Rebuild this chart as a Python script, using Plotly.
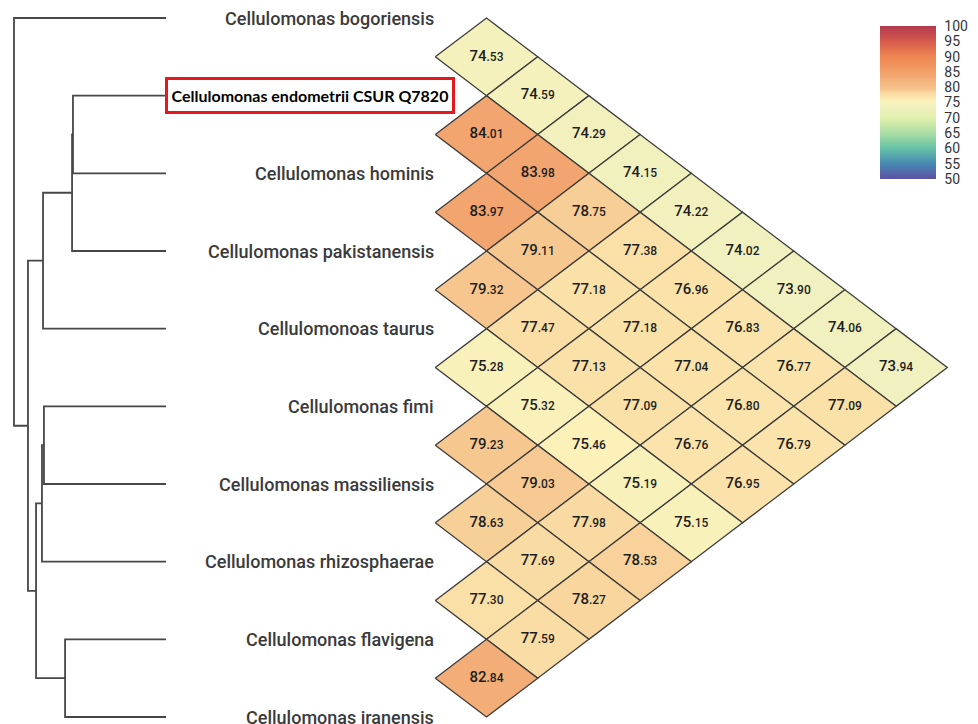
import numpy as np
import plotly.graph_objects as go

# ---------------- data ----------------
species = [
    "Cellulomonas bogoriensis",
    "Cellulomonas endometrii CSUR Q7820",
    "Cellulomonas hominis",
    "Cellulomonas pakistanensis",
    "Cellulomonoas taurus",
    "Cellulomonas fimi",
    "Cellulomonas massiliensis",
    "Cellulomonas rhizosphaerae",
    "Cellulomonas flavigena",
    "Cellulomonas iranensis",
]
highlight_index = 1

# upper triangle rows: row i holds values for pairs (i, i+1), (i, i+2), ...
row_0 = [74.53, 74.59, 74.29, 74.15, 74.22, 74.02, 73.90, 74.06, 73.94]
row_1 = [84.01, 83.98, 78.75, 77.38, 76.96, 76.83, 76.77, 77.09]
row_2 = [83.97, 79.11, 77.18, 77.18, 77.04, 76.80, 76.79]
row_3 = [79.32, 77.47, 77.13, 77.09, 76.76, 76.95]
row_4 = [75.28, 75.32, 75.46, 75.19, 75.15]
row_5 = [79.23, 79.03, 77.98, 78.53]
row_6 = [78.63, 77.69, 78.27]
row_7 = [77.30, 77.59]
row_8 = [82.84]
rows = [row_0, row_1, row_2, row_3, row_4, row_5, row_6, row_7, row_8]

# dendrogram merges (scipy-like: new cluster ids start at 10), height in relative distance units
merges = [
    (1, 2, 0.612),
    (10, 3, 0.618),
    (11, 4, 0.809),
    (5, 6, 0.803),
    (13, 7, 0.816),
    (8, 9, 0.664),
    (14, 15, 0.855),
    (12, 16, 0.908),
    (0, 17, 1.000),
]

colorbar_ticks = [50, 55, 60, 65, 70, 75, 80, 85, 90, 95, 100]
cmin, cmax = 50, 100

# ---------------- style ----------------
W, H = 978, 724
LEAF_PX0, LEAF_DY = 18.0, 699.0 / 9
LEAF_X = 166.0
DENDRO_SCALE = 152.0
CELL_X1 = 486.5
CELL_DX = 51.2
LABEL_RIGHT = 436.0

scale_vals = [50, 55, 60, 65, 70, 74, 75.5, 77, 78, 79.2, 84, 90, 95, 100]
scale_cols = ["#5E4FA2", "#4789B4", "#66C2A5", "#ABDDA4", "#E2F0AE", "#F0F1BF",
              "#FBF1B9", "#FAE2A9", "#F9DAA2", "#F6C78F", "#F2A56E", "#EE8550",
              "#D65A4C", "#B23A4F"]
colorscale = [[(v - cmin) / (cmax - cmin), c] for v, c in zip(scale_vals, scale_cols)]


def hex2rgb(h):
    h = h.lstrip("#")
    return np.array([int(h[k:k + 2], 16) for k in (0, 2, 4)], dtype=float)


def value_color(v):
    rgbs = np.array([hex2rgb(c) for c in scale_cols])
    r = [np.interp(v, scale_vals, rgbs[:, k]) for k in range(3)]
    return "rgb(%d,%d,%d)" % tuple(int(round(x)) for x in r)


# y axis in leaf-index units
y_top = -LEAF_PX0 / LEAF_DY
y_bot = (H - LEAF_PX0) / LEAF_DY

fig = go.Figure()

# ---------------- dendrogram ----------------
n = len(species)
pos = {i: (LEAF_X, float(i)) for i in range(n)}
dx_list, dy_list = [], []
for k, (a, b, h) in enumerate(merges):
    xn = LEAF_X - h * DENDRO_SCALE
    xa, ya = pos[a]
    xb, yb = pos[b]
    dx_list += [xa, xn, xn, xb, None]
    dy_list += [ya, ya, yb, yb, None]
    pos[n + k] = (xn, (ya + yb) / 2)

fig.add_trace(go.Scatter(x=dx_list, y=dy_list, mode="lines",
                         line=dict(color="#474747", width=1.8),
                         hoverinfo="skip", showlegend=False))

# ---------------- diamonds ----------------
tx, ty, tt = [], [], []
for i, row in enumerate(rows):
    for off, v in enumerate(row):
        j = i + off + 1
        d = j - i
        cx = CELL_X1 + (d - 1) * CELL_DX
        cy = (i + j) / 2
        xs = [cx - CELL_DX, cx, cx + CELL_DX, cx, cx - CELL_DX]
        ys = [cy, cy - 0.5, cy, cy + 0.5, cy]
        fig.add_trace(go.Scatter(x=xs, y=ys, mode="lines", fill="toself",
                                 fillcolor=value_color(v),
                                 line=dict(color="#3c3c3c", width=1.3),
                                 hoverinfo="skip", showlegend=False))
        s = "%.2f" % v
        ip, dp = s.split(".")
        tx.append(cx)
        ty.append(cy)
        tt.append(ip + "<span style='font-size:12px'>." + dp + "</span>")

fig.add_trace(go.Scatter(x=tx, y=ty, mode="text", text=tt,
                         textposition="middle center",
                         textfont=dict(family="Roboto", size=15, color="#1e1e1e", weight=500),
                         hoverinfo="skip", showlegend=False))

# ---------------- labels ----------------
for i, name in enumerate(species):
    if i == highlight_index:
        fig.add_annotation(x=(165 + 454) / 2, y=i, xref="x", yref="y",
                           text="<b>" + name + "</b>", showarrow=False,
                           font=dict(family="Lato", size=16, color="#000000"),
                           bordercolor="#E5171F", borderwidth=3, borderpad=1,
                           width=282, height=29, align="center",
                           xanchor="center", yanchor="middle")
    else:
        fig.add_annotation(x=LABEL_RIGHT, y=i, xref="x", yref="y",
                           text=name, showarrow=False,
                           font=dict(family="Roboto", size=18, color="#3a3a3a", weight=500),
                           xanchor="right", yanchor="middle")

# ---------------- colorbar ----------------
fig.add_trace(go.Scatter(
    x=[-100, -100], y=[0, 0], mode="markers",
    marker=dict(color=[cmin, cmax], cmin=cmin, cmax=cmax, colorscale=colorscale,
                showscale=True,
                colorbar=dict(
                    x=880 / W, xanchor="left", y=1 - 26 / H, yanchor="top",
                    xpad=0, ypad=0, thickness=56, thicknessmode="pixels",
                    len=153, lenmode="pixels", outlinewidth=0,
                    tickvals=colorbar_ticks, ticktext=[str(t) for t in colorbar_ticks],
                    ticks="outside", ticklen=6, tickcolor="rgba(0,0,0,0)",
                    tickfont=dict(family="Roboto", size=14, color="#333333"),
                )),
    hoverinfo="skip", showlegend=False))

fig.update_layout(
    width=W, height=H, margin=dict(l=0, r=0, t=0, b=0),
    paper_bgcolor="white", plot_bgcolor="white",
    xaxis=dict(range=[0, W], visible=False, fixedrange=True),
    yaxis=dict(range=[y_bot, y_top], visible=False, fixedrange=True),
    showlegend=False,
)

fig.write_html("out.html")
